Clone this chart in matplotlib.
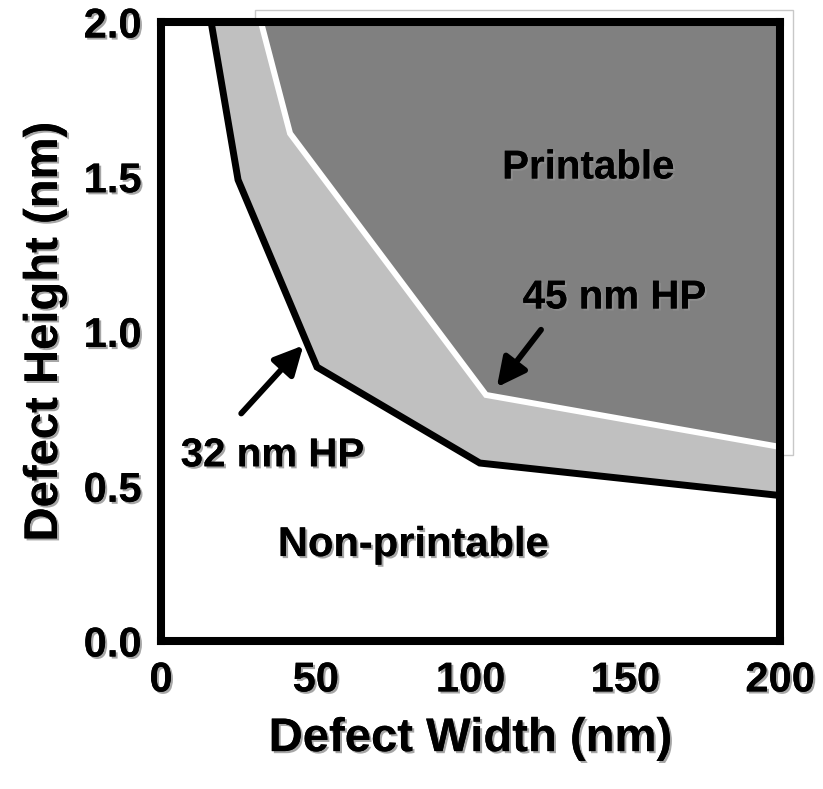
import matplotlib.pyplot as plt
import matplotlib.patheffects as pe
from matplotlib.patches import Rectangle

plt.rcParams['font.family'] = ['Liberation Sans', 'DejaVu Sans']
plt.rcParams['font.weight'] = 'bold'
plt.rcParams['axes.labelweight'] = 'bold'

# boundary curves (defect width nm, defect height nm)
w32 = [16.2, 24.9, 50.4, 103.0, 200.0]
h32 = [2.0, 1.49, 0.885, 0.575, 0.47]
w45 = [32.3, 41.7, 105.0, 200.0]
h45 = [2.0, 1.64, 0.795, 0.627]

xticks = [0, 50, 100, 150, 200]
yticks = [0.0, 0.5, 1.0, 1.5, 2.0]

shadow = [pe.withSimplePatchShadow(offset=(1.5, -1.5), shadow_rgbFace='#909090', alpha=0.8), pe.Normal()]

fig = plt.figure(figsize=(8.23, 7.89), dpi=100)
ax = fig.add_axes([0.1956, 0.1876, 0.7522, 0.7845])
ax.set_xlim(0, 200)
ax.set_ylim(0, 2.0)

# light grey band between the two curves
band_x = w32 + w45[::-1]
band_y = h32 + h45[::-1]
ax.fill(band_x, band_y, color='#c0c0c0', lw=0, zorder=1)
# printable region above the 45 nm curve
ax.fill(w45 + [200], h45 + [2.0], color='#808080', lw=0, zorder=2)

# thin outline around the printable box, only peeking out behind the axes
outline = Rectangle((30.4, 0.60), 173.8, 1.44, fill=False, ec='#c8c8c8', lw=1,
                    transform=ax.transData, zorder=-1)
fig.add_artist(outline)

ax.plot(w45, h45, color='white', lw=4.3, zorder=3, solid_joinstyle='miter')
ax.plot(w32, h32, color='black', lw=5, zorder=4, solid_joinstyle='miter')

ax.set_xticks(xticks)
ax.set_xticklabels([str(t) for t in xticks])
ax.set_yticks(yticks)
ax.set_yticklabels([f'{t:.1f}' for t in yticks])
ax.tick_params(length=0, labelsize=30, pad=14)
for lab in ax.get_xticklabels() + ax.get_yticklabels():
    lab.set_path_effects(shadow)

for s in ax.spines.values():
    s.set_linewidth(5.8)
    s.set_zorder(6)

ax.set_xlabel('Defect Width (nm)', fontsize=34, fontweight='bold', labelpad=12, path_effects=shadow)
ax.set_ylabel('Defect Height (nm)', fontsize=34, fontweight='bold', labelpad=12, path_effects=shadow)

ax.text(138, 1.53, 'Printable', fontsize=29, ha='center', va='center', path_effects=shadow, zorder=7)
ax.text(81.5, 0.31, 'Non-printable', fontsize=30, ha='center', va='center', path_effects=shadow, zorder=7)

arrow = dict(arrowstyle='-|>,head_length=0.6,head_width=0.3', color='black', lw=4.2,
             shrinkA=0, shrinkB=0)
ax.annotate('32 nm HP', xy=(46, 0.955), xytext=(36, 0.6), fontsize=29, ha='center', va='center',
            path_effects=shadow, zorder=7, arrowprops=dict(arrow, relpos=(0.33, 1.6)))
ax.annotate('45 nm HP', xy=(108.5, 0.82), xytext=(146.5, 1.11), fontsize=29, ha='center', va='center',
            path_effects=shadow, zorder=7, arrowprops=dict(arrow, relpos=(0.1, -0.35)))

fig.savefig('out.png', dpi=100)
